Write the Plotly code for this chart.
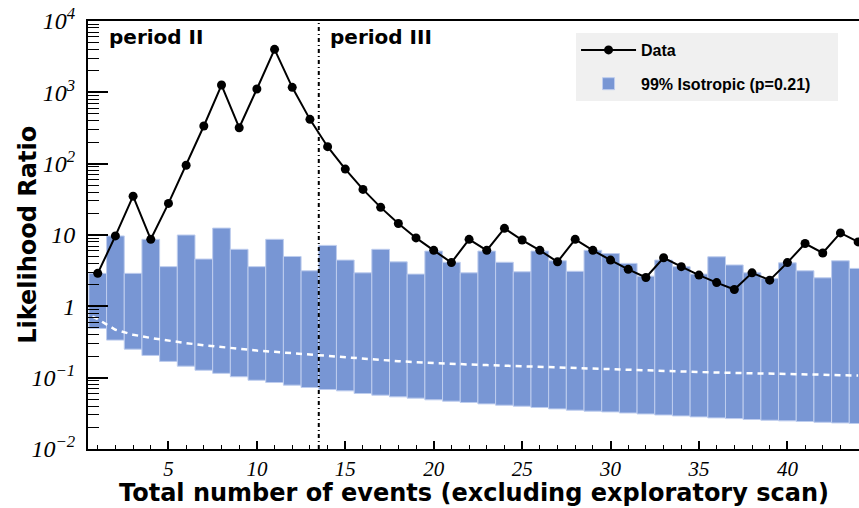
import plotly.graph_objects as go

# ---------------- data ----------------
events = list(range(1, 45))

data_lr = [2.9, 9.7, 35, 8.7, 27.7, 95, 337, 1265, 319, 1112,
           4010, 1175, 418, 173, 84, 43.6, 24.4, 14.5, 9.1, 6.1,
           4.1, 8.7, 6.1, 12.4, 8.5, 6.1, 4.2, 8.7, 6.1, 4.45,
           3.3, 2.54, 4.8, 3.6, 2.74, 2.15, 1.72, 2.95, 2.33, 4.1,
           7.6, 5.6, 10.7, 8.0]

iso_upper = [2.9, 9.7, 2.9, 8.7, 3.6, 10, 4.6, 12.5, 6.3, 3.6,
             8.7, 5.0, 3.15, 7.15, 4.45, 2.95, 6.3, 4.2, 2.83, 5.95,
             4.15, 2.95, 5.95, 4.15, 3.05, 5.95, 4.35, 3.1, 6.1, 5.5,
             4.0, 2.65, 4.45, 3.6, 2.83, 4.95, 3.8, 2.95, 2.46, 4.07,
             3.15, 2.51, 4.35, 3.4]

iso_lower = [0.49, 0.336, 0.251, 0.205, 0.169, 0.145, 0.127, 0.115, 0.103, 0.092,
             0.0855, 0.0785, 0.0728, 0.0682, 0.0653, 0.060, 0.0568, 0.0538, 0.0516, 0.0489,
             0.0468, 0.0449, 0.0429, 0.0411, 0.0398, 0.0382, 0.0365, 0.035, 0.0339, 0.0331,
             0.032, 0.031, 0.030, 0.0291, 0.0282, 0.0273, 0.0267, 0.0259, 0.0253, 0.0248,
             0.0243, 0.0237, 0.0232, 0.0228]

median_x = [0.7] + events
median_lr = [0.72, 0.66, 0.47, 0.40, 0.36, 0.33, 0.305, 0.285, 0.268, 0.253, 0.240,
             0.230, 0.220, 0.210, 0.200, 0.191, 0.183, 0.176, 0.170, 0.165, 0.160,
             0.156, 0.153, 0.150, 0.147, 0.144, 0.141, 0.138, 0.135, 0.133, 0.131,
             0.128, 0.126, 0.124, 0.122, 0.120, 0.118, 0.117, 0.115, 0.114, 0.112,
             0.111, 0.110, 0.108, 0.107]

period_boundary = 13.5
period_labels = ["period II", "period III"]
period_label_x = [1.5, 14.0]

y_tickvals = [1e-2, 1e-1, 1, 10, 1e2, 1e3, 1e4]
y_ticktext = ["10<sup>\u22122</sup>", "10<sup>\u22121</sup>", "1", "10",
              "10<sup>2</sup>", "10<sup>3</sup>", "10<sup>4</sup>"]
y_minor = [m * 10 ** k for k in range(-2, 4) for m in range(2, 10)]
x_tickvals = [5, 10, 15, 20, 25, 30, 35, 40]

x_title = "Total number of events (excluding exploratory scan)"
y_title = "Likelihood Ratio"
iso_name = "99% Isotropic (p=0.21)"

# ---------------- style ----------------
BAR_COLOR = "rgb(120,150,212)"
SANS = "Liberation Sans, Arial, sans-serif"
WIDE = "DejaVu Sans, Verdana, sans-serif"
SERIF = "Liberation Serif, Times New Roman, serif"

fig = go.Figure()

fig.add_trace(go.Bar(
    x=events,
    y=[u - l for u, l in zip(iso_upper, iso_lower)],
    base=iso_lower,
    width=1.0,
    marker=dict(color=BAR_COLOR, line=dict(color="rgb(190,205,238)", width=1)),
    name=iso_name + "\u00a0" * 5,
    legendgroup="iso", legendrank=2,
))

fig.add_trace(go.Scatter(
    x=median_x, y=median_lr, mode="lines",
    line=dict(color="white", width=2.5, dash="6px,5px"),
    showlegend=False, hoverinfo="skip",
))

fig.add_trace(go.Scatter(
    x=events, y=data_lr, mode="lines+markers",
    line=dict(color="black", width=2),
    marker=dict(color="black", size=9, symbol="circle"),
    name="Data", legendgroup="data", legendrank=1,
))

fig.add_vline(x=period_boundary, line=dict(color="black", width=2, dash="4px,3px,1px,3px"))

for txt, xp in zip(period_labels, period_label_x):
    fig.add_annotation(x=xp, xref="x", y=0.963, yref="paper", text=txt,
                       showarrow=False, xanchor="left", yanchor="middle",
                       font=dict(family=WIDE, size=20, color="black", weight="bold"))

# axis titles
fig.add_annotation(x=0.5, xref="paper", y=-0.102, yref="paper", text=x_title,
                   showarrow=False, xanchor="center", yanchor="middle",
                   font=dict(family=WIDE, size=24, color="black", weight="bold"))
fig.add_annotation(x=-0.078, xref="paper", y=0.5, yref="paper", text=y_title,
                   showarrow=False, xanchor="center", yanchor="middle", textangle=-90,
                   font=dict(family=WIDE, size=24, color="black", weight="bold"))

fig.update_layout(
    width=859, height=508,
    margin=dict(l=88, r=0, t=21, b=59),
    paper_bgcolor="white", plot_bgcolor="white",
    barmode="overlay",
    showlegend=True,
    legend=dict(
        x=0.633, y=0.972, xanchor="left", yanchor="top",
        bgcolor="#f0f0f0", borderwidth=0,
        font=dict(family=SANS, size=16, color="black", weight="bold"),
        traceorder="grouped", tracegroupgap=10,
        itemwidth=55,
    ),
    xaxis=dict(
        range=[0.45, 44.05], automargin=False,
        tickvals=x_tickvals,
        ticks="inside", ticklen=8, tickwidth=1.5, tickcolor="black",
        minor=dict(dtick=1, ticks="inside", ticklen=4, tickwidth=1, tickcolor="black", showgrid=False),
        showline=True, linecolor="black", linewidth=2, mirror=True,
        showgrid=False, zeroline=False,
        tickfont=dict(family=SERIF, size=21, color="black", style="italic"),
    ),
    yaxis=dict(
        type="log", range=[-2, 4], automargin=False,
        tickvals=y_tickvals, ticktext=y_ticktext,
        ticks="inside", ticklen=20, tickwidth=1.5, tickcolor="black",
        minor=dict(tickvals=y_minor, ticks="inside", ticklen=11, tickwidth=1, tickcolor="black", showgrid=False),
        showline=True, linecolor="black", linewidth=2,
        showgrid=False, zeroline=False, ticklabelstandoff=6,
        tickfont=dict(family=SERIF, size=24, color="black", style="italic"),
    ),
)

fig.write_html("out.html", config={"displayModeBar": False},
               post_script="document.body.style.margin='0px';")
